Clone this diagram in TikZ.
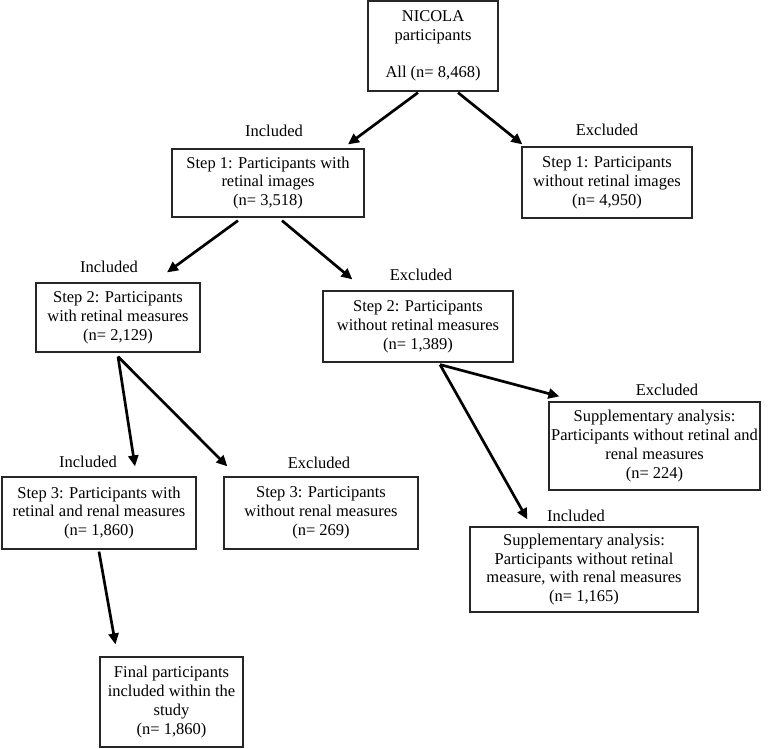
\documentclass[tikz,border=0pt]{standalone}
\usepackage{fontspec}
\setmainfont{Liberation Serif}
\usetikzlibrary{arrows.meta}
\tikzset{
  box/.style={draw=black!85, line width=1.2pt, rectangle, inner sep=0pt, align=center,
    font=\fontsize{16.5}{18.8}\selectfont},
  lbl/.style={inner sep=0pt, font=\fontsize{16.5}{18.8}\selectfont},
  arr/.style={line width=2.7pt, -{Triangle[length=11pt,width=10pt]}}
}
\begin{document}
\begin{tikzpicture}[x=1pt,y=-1pt]
\useasboundingbox (0,0) rectangle (778,748);
\node[box, minimum width=130pt, minimum height=90pt] (top) at (433,46) {NICOLA\\participants\\[18.8pt]All (n= 8,468)};
\node[box, minimum width=192pt, minimum height=68pt] (s1i) at (268,183) {Step 1: Participants with\\retinal images\\(n= 3,518)};
\node[box, minimum width=170pt, minimum height=71pt] (s1e) at (607,182.5) {Step 1: Participants\\without retinal images\\(n= 4,950)};
\node[box, minimum width=164pt, minimum height=69pt] (s2i) at (118,317.5) {Step 2: Participants\\with retinal measures\\(n= 2,129)};
\node[box, minimum width=190pt, minimum height=71pt] (s2e) at (418,326.5) {Step 2: Participants\\without retinal measures\\(n= 1,389)};
\node[box, minimum width=211pt, minimum height=88pt] (sue) at (654.5,446) {Supplementary analysis:\\Participants without retinal and\\renal measures\\(n= 224)};
\node[box, minimum width=194pt, minimum height=72pt] (s3i) at (99,513) {Step 3: Participants with\\retinal and renal measures\\(n= 1,860)};
\node[box, minimum width=194pt, minimum height=72pt] (s3e) at (321,513) {Step 3: Participants\\without renal measures\\(n= 269)};
\node[box, minimum width=228pt, minimum height=85pt] (sui) at (584,569.5) {Supplementary analysis:\\Participants without retinal\\measure, with renal measures\\(n= 1,165)};
\node[box, minimum width=143pt, minimum height=90pt] (fin) at (171.5,702) {Final participants\\included within the\\study\\(n= 1,860)};

\node[lbl] (l1) at (274,131) {Included};
\node[lbl] (l2) at (607,130) {Excluded};
\node[lbl] (l3) at (109,267) {Included};
\node[lbl] (l4) at (421,275) {Excluded};
\node[lbl] (l5) at (667,390) {Excluded};
\node[lbl] (l6) at (88,462) {Included};
\node[lbl] (l7) at (319,463) {Excluded};
\node[lbl] (l8) at (576,516) {Included};

\draw[arr] ([xshift=-15pt,yshift=-1pt]top.south) -- ([xshift=80pt,yshift=4pt]s1i.north);
\draw[arr] ([xshift=25pt,yshift=-1pt]top.south) -- ([xshift=1pt,yshift=2pt]s1e.north west);
\draw[arr] ([xshift=-30pt,yshift=-3pt]s1i.south) -- ([xshift=49pt,yshift=10pt]s2i.north);
\draw[arr] ([xshift=14pt,yshift=-3pt]s1i.south) -- ([xshift=30pt,yshift=11pt]s2e.north west);
\draw[arr] ([yshift=-4pt]s2i.south) -- ([xshift=36pt,yshift=10pt]s3i.north);
\draw[arr] ([yshift=-4pt]s2i.south) -- ([xshift=4pt,yshift=10pt]s3e.north west);
\draw[arr] ([xshift=22pt,yshift=-2pt]s2e.south) -- ([xshift=11pt,yshift=5pt]sue.north west);
\draw[arr] ([xshift=22pt,yshift=-2pt]s2e.south) -- ([xshift=58pt,yshift=7pt]sui.north west);
\draw[arr] ([yshift=-2pt]s3i.south) -- ([xshift=-56pt,yshift=12pt]fin.north);
\end{tikzpicture}
\end{document}
